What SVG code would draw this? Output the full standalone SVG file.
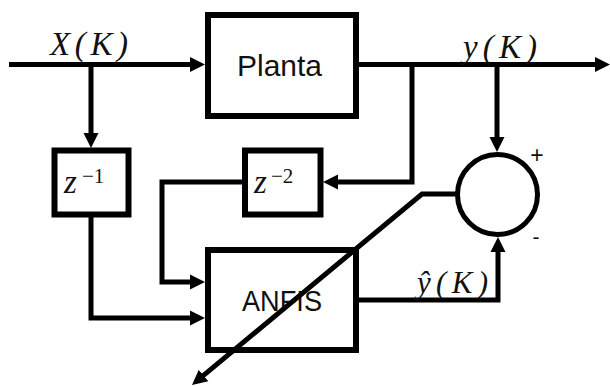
<svg xmlns="http://www.w3.org/2000/svg" width="610" height="386" viewBox="0 0 610 386">
<style>
.box{fill:#fff;stroke:#000;stroke-width:6}
.wire{fill:none;stroke:#000;stroke-width:5;stroke-linejoin:miter}
.lbl{font-family:"Liberation Sans",Arial,sans-serif;fill:#111}
.math{font-family:"Liberation Serif","Times New Roman",serif;font-style:italic;fill:#111}
.up{font-family:"Liberation Serif","Times New Roman",serif;fill:#111}
</style>
<defs>
<marker id="ah" markerUnits="userSpaceOnUse" markerWidth="16" markerHeight="16" refX="2" refY="8" orient="auto">
<path d="M0,0.5 L15,8 L0,15.5 z" fill="#000"/>
</marker>
</defs>
<rect width="610" height="386" fill="#fff"/>
<g id="connectors">
<path class="wire" d="M9,64.5 H192" marker-end="url(#ah)"/>
<path class="wire" d="M91,64.5 V135" marker-end="url(#ah)"/>
<path class="wire" d="M359,64.5 H597" marker-end="url(#ah)"/>
<path class="wire" d="M412,64.5 V182 H336" marker-end="url(#ah)"/>
<path class="wire" d="M497,64.5 V139" marker-end="url(#ah)"/>
<path class="wire" d="M91,217 V318 H192" marker-end="url(#ah)"/>
<path class="wire" d="M243,182 H162 V282 H192" marker-end="url(#ah)"/>
<path class="wire" d="M359,300 H498 V250" marker-end="url(#ah)"/>
</g>
<g id="planta">
<rect class="box" x="208" y="15" width="148" height="101"/>
<text class="lbl" x="279.5" y="76" font-size="29" text-anchor="middle" textLength="85" lengthAdjust="spacingAndGlyphs">Planta</text>
</g>
<g id="z1">
<rect class="box" x="54.5" y="150.5" width="74" height="64"/>
<text><tspan class="math" x="64" y="193" font-size="33">z</tspan><tspan class="up" x="82" y="183" font-size="21">−1</tspan></text>
</g>
<g id="z2">
<rect class="box" x="245" y="150.5" width="75.5" height="64"/>
<text><tspan class="math" x="254" y="193" font-size="33">z</tspan><tspan class="up" x="271" y="183" font-size="21">−2</tspan></text>
</g>
<g id="anfis">
<rect class="box" x="208" y="250" width="148" height="100"/>
<text class="lbl" x="282" y="311" font-size="29" text-anchor="middle" textLength="80" lengthAdjust="spacingAndGlyphs">ANFIS</text>
</g>
<g id="sum">
<circle cx="497.5" cy="194.5" r="40" fill="#fff" stroke="#000" stroke-width="5"/>
<text class="lbl" x="537" y="163" font-size="23" text-anchor="middle">+</text>
<text class="lbl" x="536" y="244" font-size="21" text-anchor="middle">-</text>
</g>
<g id="adapt">
<path class="wire" stroke-width="4" d="M457,194 H422 L202,376.7" marker-end="url(#ah)"/>
</g>
<g id="labels">
<text class="math" x="50" y="55" font-size="33" textLength="78" lengthAdjust="spacing">X(K)</text>
<text class="math" x="463" y="58" font-size="33" textLength="74" lengthAdjust="spacing">y(K)</text>
<text class="math" x="417" y="293" font-size="31" textLength="71" lengthAdjust="spacing">ŷ(K)</text>
</g>
</svg>
